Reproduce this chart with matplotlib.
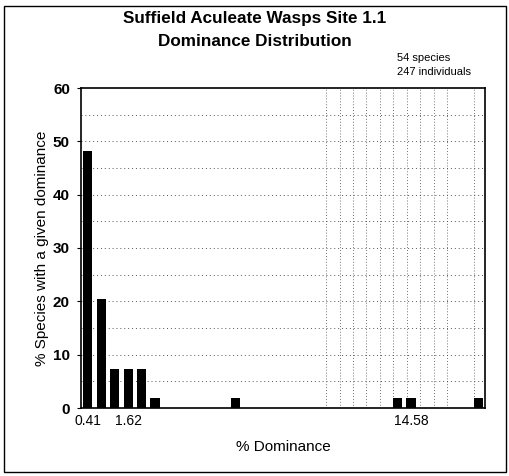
import matplotlib
matplotlib.use("Agg")
import matplotlib.pyplot as plt
from matplotlib.patches import Rectangle

# Data (categorical dominance classes, 30 slots)
n_classes = 30
bar_class = [0, 1, 2, 3, 4, 5, 11, 23, 24, 29]
bar_pct = [48.1, 20.4, 7.4, 7.4, 7.4, 1.85, 1.85, 1.85, 1.85, 1.85]
tick_class = [0, 3, 24]
tick_labels = ["0.41", "1.62", "14.58"]
y_ticks = [0, 10, 20, 30, 40, 50, 60]

plt.rcParams['font.family'] = ['Liberation Sans', 'DejaVu Sans']

fig = plt.figure(figsize=(5.10, 4.76), dpi=100)
ax = fig.add_axes([81/510, 1-408/476, (485-81)/510, (408-88)/476])

# dotted horizontal grid
for yv in range(5, 60, 5):
    ax.axhline(yv, color='#555555', linestyle=(0, (1, 3)), linewidth=0.7, zorder=0)
# dotted vertical lines (scan texture) at class boundaries
for k in [18, 19, 20, 21, 22, 23, 24, 25, 26, 27, 29]:
    ax.axvline(k - 0.3, color='#444444', linestyle=(0, (1, 2.5)), linewidth=0.6, zorder=0)

ax.bar(bar_class, bar_pct, width=0.68, color='black', zorder=3)

ax.set_xlim(-0.5, n_classes - 0.5)
ax.set_ylim(0, 60)
ax.set_xticks(tick_class)
ax.set_xticklabels(tick_labels, fontsize=10)
ax.tick_params(axis='x', length=0, pad=4)
ax.set_yticks(y_ticks)
ax.set_yticklabels([str(v) for v in y_ticks], fontsize=11, fontweight='bold')
ax.tick_params(axis='y', length=3, width=0.8, pad=5)
for s in ax.spines.values():
    s.set_linewidth(1.2)

ax.set_ylabel("% Species with a given dominance", fontsize=11, labelpad=3)
ax.set_xlabel("% Dominance", fontsize=11, labelpad=9)

fig.text(0.5, 1-18/476, "Suffield Aculeate Wasps Site 1.1", ha='center', va='center',
         fontsize=12.3, fontweight='bold')
fig.text(0.5, 1-41/476, "Dominance Distribution", ha='center', va='center',
         fontsize=12.3, fontweight='bold')
fig.text(397/510, 1-58/476, "54 species", ha='left', va='center', fontsize=8)
fig.text(397/510, 1-72/476, "247 individuals", ha='left', va='center', fontsize=8)

fig.patches.append(Rectangle((4/510, 4/476), 502/510, 466/476, transform=fig.transFigure,
                             fill=False, edgecolor='black', linewidth=1.0))

fig.savefig("out.png", dpi=100, facecolor='white')
